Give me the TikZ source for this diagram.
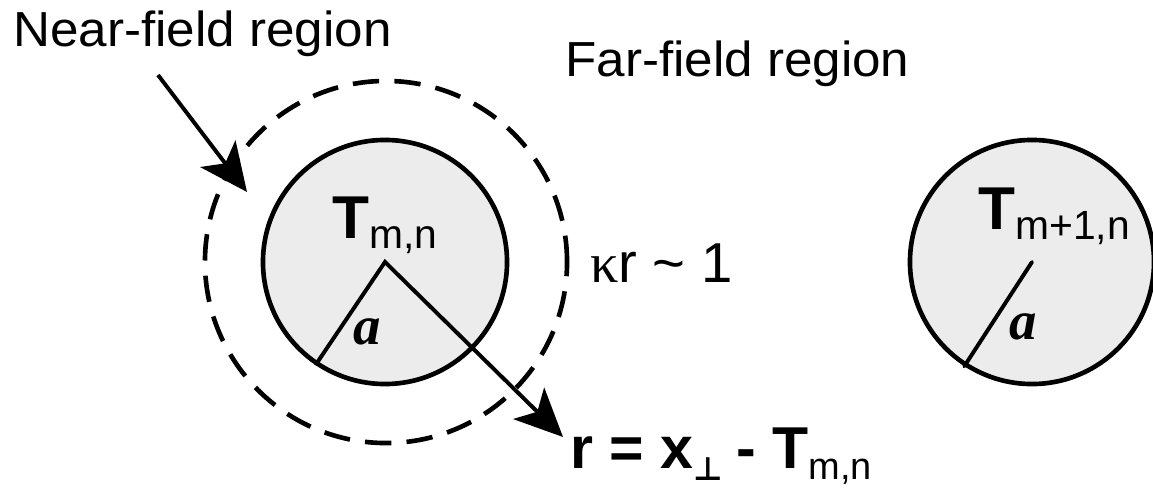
\documentclass[tikz,border=0pt]{standalone}
\usepackage{fontspec}
\setmainfont{Liberation Sans}
\newfontfamily\greekfont{Liberation Serif}
\newfontfamily\symfont{DejaVu Sans}
\usetikzlibrary{arrows.meta}

% cell name: bold T with a lowered index
\newcommand{\cellname}[1]{{\fontsize{43}{43}\selectfont\bfseries T}\raisebox{-6.5pt}{\fontsize{29}{29}\selectfont #1}}

\begin{document}
\begin{tikzpicture}[x=0.025cm,y=-0.025cm,>={Stealth[length=1.2cm,width=1.1cm,inset=0.3cm]},
  site/.style={circle,draw,line width=3.3pt,fill=gray!15,minimum size=6.1cm,inner sep=0pt},
  zone/.style={circle,draw,line width=3.3pt,dash pattern=on 0.66cm off 0.38cm,minimum size=9.05cm,inner sep=0pt},
  lbl/.style={anchor=base west,inner sep=0pt,font=\fontsize{35}{40}\selectfont},
  avar/.style={inner sep=0pt,font=\fontsize{39}{39}\greekfont\bfseries\itshape},
  radius/.style={line width=2.8pt}]
\useasboundingbox (0,0) rectangle (1153,492);
\node[zone] (nearzone) at (386,262) {};
\node[site] (cellA) at (385,262) {};
\node[site] (cellB) at (1032,262) {};
% labels
\node[lbl,xscale=1.04] (nearlbl) at (13,47) {Near-field region};
\node[lbl,xscale=1.04] (farlbl) at (565,77) {Far-field region};
\node[lbl] (nameA) at (332,239) {\cellname{m,n}};
\node[lbl] (nameB) at (978,230) {\cellname{m+1,n}};
\node[lbl,font=\fontsize{40}{40}\selectfont] (krlbl) at (590,283) {{\greekfont κ}r \textasciitilde{} 1};
\node[lbl,font=\fontsize{42}{50}\selectfont\bfseries] (rlbl) at (570,468)
  {r = x\raisebox{-9pt}{\fontsize{23}{23}\selectfont\symfont\bfseries ⊥}\hspace{-2pt} - T\raisebox{-8pt}{\fontsize{27}{27}\selectfont\mdseries m,n}};
\node[avar] (aA) at (367,332) {a};
\node[avar] (aB) at (1023,327) {a};
% radii and arrows
\coordinate (rtip) at (563,437);
\coordinate (nfstart) at (158,75);
\coordinate (nftip) at (247,192);
\draw[->,radius] (cellA.236) -- (cellA.center) -- (rtip);
\draw[radius,line cap=round] (cellB.237) -- (cellB.center);
\draw[->,radius] (nfstart) -- (nftip);
\end{tikzpicture}
\end{document}
